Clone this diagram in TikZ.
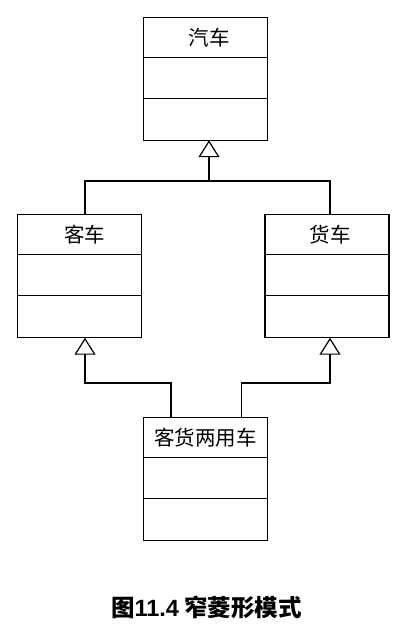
\documentclass[tikz,border=0pt]{standalone}
\usepackage{fontspec}
\newfontfamily\cjk{Noto Sans CJK SC}
\newfontfamily\lat{Liberation Sans}
\usetikzlibrary{arrows.meta,calc}
\tikzset{
  umlbox/.style={draw,line width=1.2pt,minimum width=124pt,minimum height=123pt,inner sep=0pt,outer sep=0pt},
  boxlabel/.style={font=\cjk\fontsize{20.5}{24}\selectfont,inner sep=0pt},
  gen/.style={line width=1.2pt,-{Triangle[open,length=17pt,width=21pt,fill=white]}},
  divider/.style={line width=1.2pt}
}
\newcommand{\compartments}[1]{%
  \draw[divider] ($(#1.north west)+(0,-40)$) -- ($(#1.north east)+(0,-40)$);
  \draw[divider] ($(#1.north west)+(0,-81)$) -- ($(#1.north east)+(0,-81)$);
}
\begin{document}
\begin{tikzpicture}[x=1pt,y=1pt]
\useasboundingbox (0,0) rectangle (413,-641);
\node[umlbox] (car) at (205.3,-78.7) {};
\node[boxlabel] (carl) at ($(car.north)+(4,-20)$) {汽车};
\compartments{car}
\node[umlbox] (bus) at (79.8,-276.2) {};
\node[boxlabel] (busl) at ($(bus.north)+(5,-20)$) {客车};
\compartments{bus}
\node[umlbox] (truck) at (327,-276.2) {};
\node[boxlabel] (truckl) at ($(truck.north)+(3,-20)$) {货车};
\compartments{truck}
\node[umlbox] (mix) at (205.5,-479.2) {};
\node[boxlabel] (mixl) at ($(mix.north)+(0,-20)$) {客货两用车};
\compartments{mix}
% inheritance to car
\coordinate (jl) at (85,-181);
\coordinate (jr) at (330,-181);
\coordinate (jc) at (209,-181);
\draw[line width=1.2pt] (bus.north -| jl) -- (jl) -- (jr) -- (truck.north -| jr);
\draw[gen] (jc) -- (jc |- car.south);
% mix to bus and truck
\coordinate (ml) at (171,-383);
\coordinate (mr) at (241.7,-383);
\draw[gen] (mix.north -| ml) -- (ml) -| (bus.south -| jl);
\draw[gen] (mix.north -| mr) -- (mr) -| (truck.south -| jr);
% caption
\node[inner sep=0pt] (cap) at (206.5,-607) {\fontsize{23.5}{27}\selectfont\cjk\bfseries 图{\lat\bfseries 11.4} 窄菱形模式};
\end{tikzpicture}
\end{document}
